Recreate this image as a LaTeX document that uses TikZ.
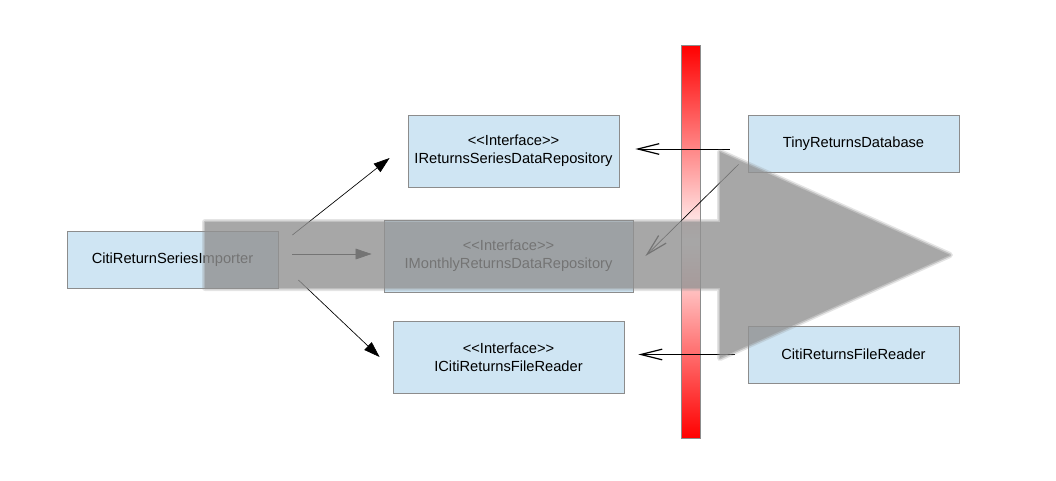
\documentclass[tikz,border=0pt]{standalone}
\usepackage{fontspec}
\setmainfont{Liberation Sans}[Ligatures=TeXOff]
\usetikzlibrary{arrows.meta}
\definecolor{boxblue}{RGB}{207, 229, 243}
\definecolor{boxline}{RGB}{140, 140, 140}
\definecolor{flowgray}{RGB}{145, 145, 145}

\begin{document}
\begin{tikzpicture}[x=0.75pt, y=-0.75pt,
    box/.style={draw=boxline, fill=boxblue, line width=0.6pt, inner sep=0pt,
        minimum width=158.25pt, minimum height=42.75pt, align=center,
        font=\fontsize{11}{13.5}\selectfont},
    ibox/.style={box, minimum height=54pt},
    uses/.style={line width=0.5pt, -{Triangle[length=12pt, width=8pt]}},
    impl/.style={line width=0.5pt, -{Straight Barb[length=16pt, width=8pt, line width=0.9pt]}}]
    % Canvas
    \useasboundingbox (0,0) rectangle (1056,480);

    % Boundary bar
    \shade[top color=red, bottom color=red, middle color=white] (681,45) rectangle (700,438);
    \draw[boxline, line width=0.6pt] (681,45) rectangle (700,438);

    % Classes and interfaces
    \node[box] (importer) at (172.5,259.5) {CitiReturnSeriesImporter};
    \node[ibox] (seriesrepo) at (513.5,151) {<<Interface>>\\IReturnsSeriesDataRepository};
    \node[ibox, minimum width=186.75pt] (monthlyrepo) at (508.5,256) {<<Interface>>\\IMonthlyReturnsDataRepository};
    \node[ibox, minimum width=173.25pt] (filereaderif) at (508.5,357) {<<Interface>>\\ICitiReturnsFileReader};
    \node[box] (tinydb) at (853.5,143.5) {TinyReturnsDatabase};
    \node[box] (filereader) at (853.5,354.5) {CitiReturnsFileReader};

    % Dependencies
    \draw[uses] ([shift={(14,-24.5)}]importer.east) -- ([shift={(-18,7)}]seriesrepo.west);
    \draw[uses] ([shift={(14,-5.5)}]importer.east) -- ([shift={(-12,-2)}]monthlyrepo.west);
    \draw[uses] ([shift={(20,20.5)}]importer.east) -- ([shift={(-13,0)}]filereaderif.west);

    % Implementations
    \draw[impl] ([shift={(-18,5.5)}]tinydb.west) -- ([shift={(16,-2)}]seriesrepo.east);
    \draw[impl] ([shift={(-9,-8)}]tinydb.south west) -- ([shift={(12,0)}]monthlyrepo.east);
    \draw[impl] ([shift={(-13,0)}]filereader.west) -- ([shift={(14,-2.5)}]filereaderif.east);

    % Flow arrow (soft edges)
    \begin{scope}[transparency group, opacity=0.8]
        \draw[flowgray, line width=4.5pt, opacity=0.3, line join=round]
            (205,222) -- (720,222) -- (720,152) -- (950,255) -- (720,358) -- (720,288) -- (205,288) -- cycle;
        \draw[flowgray, line width=2.2pt, opacity=0.6, line join=round]
            (205,222) -- (720,222) -- (720,152) -- (950,255) -- (720,358) -- (720,288) -- (205,288) -- cycle;
        \fill[flowgray]
            (205,222) -- (720,222) -- (720,152) -- (950,255) -- (720,358) -- (720,288) -- (205,288) -- cycle;
    \end{scope}
\end{tikzpicture}
\end{document}
